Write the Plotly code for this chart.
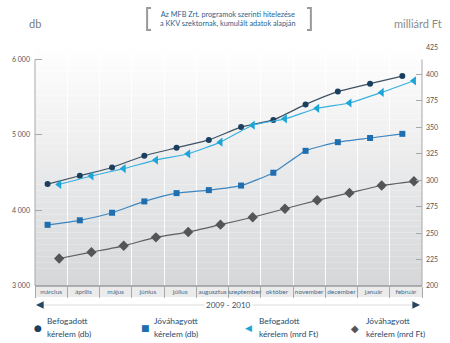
import plotly.graph_objects as go
import numpy as np

months = ["március", "április", "május", "június", "július", "augusztus",
          "szeptember", "október", "november", "december", "január", "február"]

befogadott_db = [4350, 4460, 4570, 4725, 4830, 4935, 5105, 5200, 5405, 5575, 5680, 5780]
jovahagyott_db = [3810, 3870, 3970, 4120, 4230, 4270, 4330, 4500, 4790, 4905, 4960, 5015]
befogadott_mrd = [296, 304, 311, 319, 325, 336, 352, 358, 368, 373, 383, 394]
jovahagyott_mrd = [226, 232, 238, 246, 251, 258, 265, 273, 281, 288, 295, 299]

left_ticks = [3000, 4000, 5000, 6000]
left_ticktext = ["3 000", "4 000", "5 000", "6 000"]
right_ticks = [200, 225, 250, 275, 300, 325, 350, 375, 400, 425]

W, H = 450, 343
L, R, T, B = 28, 425, 48, 286
FONT = "Lato, Open Sans, sans-serif"


def px(xpix):
    return (xpix - L) / (R - L)


def py(ypix):
    return (B - ypix) / (B - T)


idx = np.arange(len(months))
x_db = idx + 0.39
x_mrd = idx + 0.75

fig = go.Figure()

fig.add_trace(go.Scatter(
    x=x_db, y=befogadott_db, mode="lines+markers", yaxis="y",
    line=dict(color="#3f5263", width=1.2, shape="spline", smoothing=0.5),
    marker=dict(symbol="circle", size=6, color="#1b3f5e"),
    showlegend=False, cliponaxis=False))
fig.add_trace(go.Scatter(
    x=x_db, y=jovahagyott_db, mode="lines+markers", yaxis="y",
    line=dict(color="#3d86c0", width=1.2, shape="spline", smoothing=0.5),
    marker=dict(symbol="square", size=6, color="#1f6fb0"),
    showlegend=False, cliponaxis=False))
fig.add_trace(go.Scatter(
    x=x_mrd, y=befogadott_mrd, mode="lines+markers", yaxis="y2",
    line=dict(color="#35b0de", width=1.2, shape="spline", smoothing=0.5),
    marker=dict(symbol="triangle-left", size=8, color="#1ea5d8"),
    showlegend=False, cliponaxis=False))
fig.add_trace(go.Scatter(
    x=x_mrd, y=jovahagyott_mrd, mode="lines+markers", yaxis="y2",
    line=dict(color="#5e5e5e", width=1.2, shape="spline", smoothing=0.5),
    marker=dict(symbol="diamond", size=8, color="#555555"),
    showlegend=False, cliponaxis=False))

shapes = []
# gradient background
N = 40
top_c = np.array([255, 255, 255])
bot_c = np.array([214, 215, 217])
for i in range(N):
    t = (i + 0.5) / N
    c = (bot_c * (1 - t) + top_c * t).astype(int)
    shapes.append(dict(type="rect", xref="paper", yref="paper",
                       x0=0, x1=1, y0=i / N, y1=(i + 1) / N,
                       fillcolor=f"rgb({c[0]},{c[1]},{c[2]})",
                       line=dict(width=0), layer="below"))
# band beneath the x axis
shapes.append(dict(type="rect", xref="paper", yref="paper", x0=0, x1=1,
                   y0=py(297), y1=0, fillcolor="#ebebeb", line=dict(width=0), layer="below"))
# axis lines
shapes.append(dict(type="line", xref="paper", yref="paper", x0=0, x1=0,
                   y0=0, y1=py(59.5), line=dict(color="#a8a8a8", width=1)))
shapes.append(dict(type="line", xref="paper", yref="paper", x0=1, x1=1,
                   y0=0, y1=py(59.5), line=dict(color="#a8a8a8", width=1)))
shapes.append(dict(type="line", xref="paper", yref="paper", x0=0, x1=1,
                   y0=0, y1=0, line=dict(color="#9a9a9a", width=1.5)))
# arrow line under months
shapes.append(dict(type="line", xref="paper", yref="paper", x0=px(31), x1=px(421),
                   y0=py(305), y1=py(305), line=dict(color="#dcdcdc", width=1)))
# brackets around title
for xb, d in [(143, 1), (311, -1)]:
    shapes.append(dict(type="path", xref="paper", yref="paper",
                       path=f"M {px(xb + 4 * d)} {py(8)} L {px(xb)} {py(8)} "
                            f"L {px(xb)} {py(30)} L {px(xb + 4 * d)} {py(30)}",
                       line=dict(color="#9a9a9a", width=2)))

annotations = []
annotations.append(dict(xref="paper", yref="paper", x=px(226), y=py(19),
                        text="Az MFB Zrt. programok szerinti hitelezése<br>a KKV szektornak, kumulált adatok alapján",
                        showarrow=False, font=dict(family=FONT, size=7.3, color="#2d5f8e"),
                        align="center", xanchor="center", yanchor="middle"))
annotations.append(dict(xref="paper", yref="paper", x=px(20), y=py(24), text="db",
                        showarrow=False, font=dict(family=FONT, size=11, color="#7a7a7a"),
                        xanchor="left", yanchor="middle"))
annotations.append(dict(xref="paper", yref="paper", x=px(448), y=py(24), text="milliárd Ft",
                        showarrow=False, font=dict(family=FONT, size=11, color="#8a8a8a"),
                        xanchor="right", yanchor="middle"))
annotations.append(dict(xref="paper", yref="paper", x=px(226), y=py(305), text="2009 - 2010",
                        showarrow=False, font=dict(family=FONT, size=8, color="#3a4f66"),
                        bgcolor="white", xanchor="center", yanchor="middle", borderpad=1))
# arrowheads
for xe, d in [(29, 1), (423, -1)]:
    annotations.append(dict(xref="paper", yref="paper", x=px(xe), y=py(305),
                            ax=8 * d, ay=0, text="", showarrow=True,
                            arrowhead=2, arrowsize=1.1, arrowwidth=1.4, arrowcolor="#2a4560"))

legend_items = [
    ("●", "#1b3f5e", 31, 38, "Befogadott", "kérelem (db)", 9),
    ("■", "#1f6fb0", 141, 148, "Jóváhagyott", "kérelem (db)", 9),
    ("◀", "#1ea5d8", 247, 256, "Befogadott", "kérelem (mrd Ft)", 9),
    ("◆", "#555555", 356, 365, "Jóváhagyott", "kérelem (mrd Ft)", 10),
]
for glyph, col, gx, tx, l1, l2, gs in legend_items:
    annotations.append(dict(xref="paper", yref="paper", x=px(gx), y=py(328), text=glyph,
                            showarrow=False, font=dict(family="DejaVu Sans", size=gs, color=col),
                            xanchor="center", yanchor="middle"))
    annotations.append(dict(xref="paper", yref="paper", x=px(tx), y=py(321), text=l1,
                            showarrow=False, font=dict(family=FONT, size=8.3, color="#2a4a6a"),
                            xanchor="left", yanchor="middle"))
    annotations.append(dict(xref="paper", yref="paper", x=px(tx), y=py(334), text=l2,
                            showarrow=False, font=dict(family=FONT, size=8.3, color="#2a4a6a"),
                            xanchor="left", yanchor="middle"))

fig.update_layout(
    width=W, height=H,
    margin=dict(l=L, r=W - R, t=T, b=H - B, pad=0),
    paper_bgcolor="white", plot_bgcolor="rgba(0,0,0,0)",
    font=dict(family=FONT),
    showlegend=False,
    xaxis=dict(range=[0, 12], tickmode="array", tickvals=idx + 0.5, ticktext=months,
               showgrid=False, zeroline=False, showline=False, ticks="", tickangle=0,
               tickfont=dict(family=FONT, size=6.5, color="#4a6a8a"), ticklabelstandoff=0,
               minor=dict(tickmode="array", tickvals=list(range(13)), showgrid=True,
                          gridcolor="rgba(255,255,255,0.9)", gridwidth=1,
                          ticks="outside", ticklen=11, tickcolor="#a8a8a8", tickwidth=1)),
    yaxis=dict(range=[3000, 6152], tickmode="array", tickvals=left_ticks, ticktext=left_ticktext,
               showgrid=False, zeroline=False, showline=False,
               ticks="inside", ticklen=7, tickcolor="#a8a8a8",
               tickfont=dict(family=FONT, size=7, color="#555555"), ticklabelstandoff=4),
    yaxis2=dict(range=[200, 425], overlaying="y", side="right", tickmode="array",
                tickvals=right_ticks, showgrid=False, zeroline=False, showline=False,
                ticks="inside", ticklen=6, tickcolor="#a8a8a8",
                tickfont=dict(family=FONT, size=7, color="#555555"), ticklabelstandoff=3),
    shapes=shapes,
    annotations=annotations,
)

fig.write_html("out.html")
